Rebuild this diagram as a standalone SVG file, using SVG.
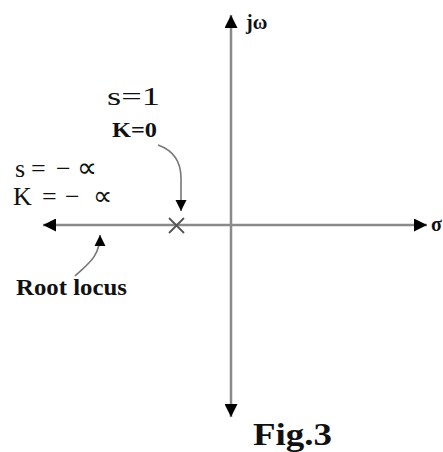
<svg xmlns="http://www.w3.org/2000/svg" width="443" height="452" viewBox="0 0 443 452">
<style>
.ax{stroke:#8a8a8a;stroke-width:2.5;fill:none}
.cv{stroke:#777;stroke-width:1.6;fill:none}
.hd{fill:#000}
.tr{font-family:"Liberation Serif","Times New Roman",serif;fill:#111}
.b{font-weight:bold}
</style>
<defs>
<marker id="ah" viewBox="0 0 10 10" refX="10" refY="5" markerWidth="15" markerHeight="13" markerUnits="userSpaceOnUse" orient="auto">
<path d="M0,0 L10,5 L0,10 z" class="hd"/>
</marker>
<marker id="ahs" viewBox="0 0 10 10" refX="10" refY="5" markerWidth="11" markerHeight="12" markerUnits="userSpaceOnUse" orient="auto">
<path d="M0,0 L10,5 L0,10 z" class="hd"/>
</marker>
</defs>
<g id="connectors">
<line class="ax" x1="231" y1="225" x2="231" y2="15" marker-end="url(#ah)"/>
<line class="ax" x1="231" y1="225" x2="231" y2="417" marker-end="url(#ah)"/>
<line class="ax" x1="231" y1="225" x2="427" y2="225" marker-end="url(#ah)"/>
<line class="ax" x1="231" y1="225" x2="43" y2="225" marker-end="url(#ah)"/>
<path class="cv" d="M158,145 C172,150 181,160 181,178 L181,211" marker-end="url(#ahs)"/>
<path class="cv" d="M75,276 C86,265 100,258 100,235" marker-end="url(#ahs)"/>
</g>
<g id="pole">
<path d="M169,218 L184,233 M184,218 L169,233" stroke="#555" stroke-width="1.8"/>
</g>
<g id="labels">
<text class="tr b" x="246" y="29" font-size="20">jω</text>
<text class="tr b" x="431" y="231" font-size="20">σ</text>
<text class="tr" x="107" y="105" font-size="26" textLength="53" lengthAdjust="spacingAndGlyphs">s=1</text>
<text class="tr b" x="112" y="137" font-size="22" textLength="45" lengthAdjust="spacingAndGlyphs">K=0</text>
<text class="tr" y="177" font-size="26"><tspan x="15">s</tspan><tspan x="31">=</tspan><tspan x="56">−</tspan><tspan x="77" font-size="28">∝</tspan></text>
<text class="tr" y="205" font-size="26"><tspan x="13">K</tspan><tspan x="42">=</tspan><tspan x="65">−</tspan><tspan x="93" font-size="27">∝</tspan></text>
<text class="tr b" x="16" y="295" font-size="24" textLength="111" lengthAdjust="spacingAndGlyphs">Root locus</text>
<text class="tr b" x="253" y="445" font-size="32" textLength="79" lengthAdjust="spacingAndGlyphs">Fig.3</text>
</g>
</svg>
